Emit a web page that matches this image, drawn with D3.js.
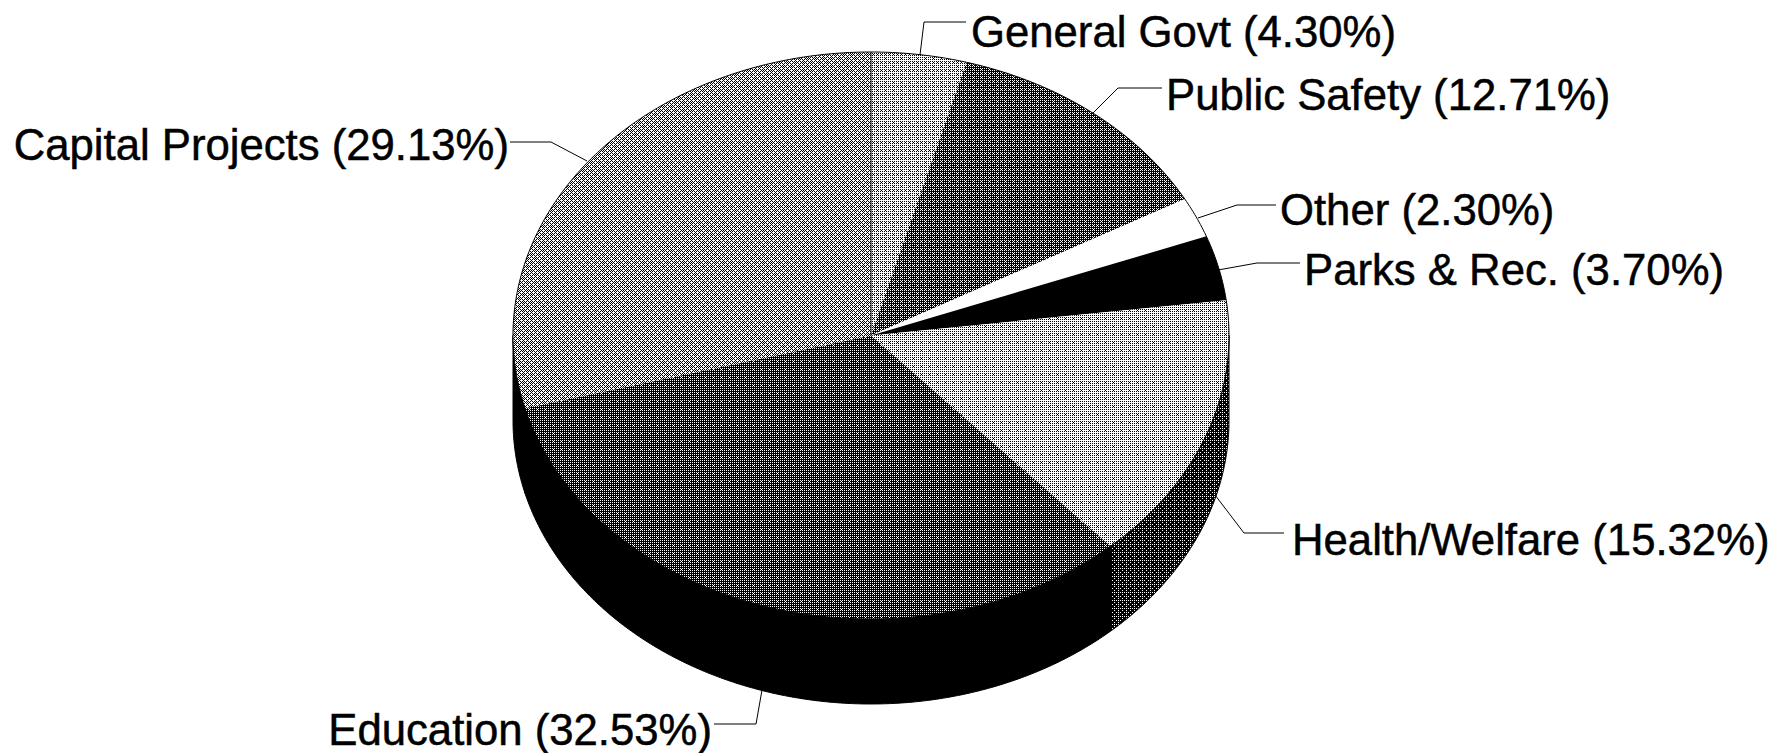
<!DOCTYPE html>
<html>
<head>
<meta charset="utf-8">
<script src="https://cdn.jsdelivr.net/npm/d3@7"></script>
<style>
  html, body { margin: 0; background: #fff; }
  svg { display: block; }
  text { font-family: "Liberation Sans", Arial, sans-serif; font-size: 43.7px; fill: #000; stroke: #000; stroke-width: 0.5px; }
</style>
</head>
<body>
<div id="chart"></div>
<script>
// chart values, clockwise from 12 o'clock
const categories = ["General Govt", "Public Safety", "Other", "Parks & Rec.", "Health/Welfare", "Education", "Capital Projects"];
const shares = [4.30, 12.71, 2.30, 3.70, 15.32, 32.53, 29.13];

// grey level of each slice top, 0 = black, 1 = white
const topGreys = [0.70, 0.30, 1, 0, 0.74, 0.27, 0.60];
const wallGreys = [0, 0, 0, 0, 0.17, 0, 0];

// leader line and label placement, same order as categories
const leaders = [
  [[920, 55], [924, 22], [966, 22]],
  [[1093, 113], [1118, 88], [1162, 88]],
  [[1198, 218], [1237, 205], [1276, 205]],
  [[1218, 270], [1257, 263], [1300, 263]],
  [[1215, 495], [1244, 533], [1284, 533]],
  [[762, 690], [756, 724], [714, 724]],
  [[587, 161], [551, 142], [510, 142]],
];
const labelX = [971, 1166, 1280, 1304, 1292, 712, 509];
const labelY = [47, 110, 225, 285, 555, 745, 160];
const labelAnchor = ["start", "start", "start", "start", "start", "end", "end"];

const width = 1787;
const height = 753;
const cx = 871;
const cy = 335.5;
const rx = 358;
const ry = 283.5;
const depth = 85;

const svg = d3.select("#chart").append("svg").attr("width", width).attr("height", height);

// ordered dither so the greys look like the scanned halftone
const bayer = [
  [0, 32, 8, 40, 2, 34, 10, 42],
  [48, 16, 56, 24, 50, 18, 58, 26],
  [12, 44, 4, 36, 14, 46, 6, 38],
  [60, 28, 52, 20, 62, 30, 54, 22],
  [3, 35, 11, 43, 1, 33, 9, 41],
  [51, 19, 59, 27, 49, 17, 57, 25],
  [15, 47, 7, 39, 13, 45, 5, 37],
  [63, 31, 55, 23, 61, 29, 53, 21],
];
const defs = svg.append("defs");
function dither(grey) {
  if (grey === 0) return "#000";
  if (grey === 1) return "#fff";
  const id = "grey" + Math.round(grey * 100);
  if (!defs.select("#" + id).empty()) return `url(#${id})`;
  const pattern = defs.append("pattern")
    .attr("id", id)
    .attr("patternUnits", "userSpaceOnUse")
    .attr("width", 8)
    .attr("height", 8);
  pattern.append("rect").attr("width", 8).attr("height", 8).attr("fill", "#fff");
  bayer.forEach((row, y) => row.forEach((t, x) => {
    if ((t + 0.5) / 64 > grey) {
      pattern.append("rect").attr("x", x).attr("y", y).attr("width", 1).attr("height", 1).attr("fill", "#000");
    }
  }));
  return `url(#${id})`;
}

const pie = d3.pie().sort(null).value((d) => d);
const arcs = pie(shares);

const xAt = (a) => cx + rx * Math.sin(a);
const yAt = (a) => cy - ry * Math.cos(a);
const line = d3.line().x((d) => d[0]).y((d) => d[1]);

function rim(a0, a1, dy) {
  const n = Math.max(2, Math.ceil(Math.abs(a1 - a0) / 0.01));
  return d3.range(n + 1).map((i) => {
    const a = a0 + ((a1 - a0) * i) / n;
    return [xAt(a), yAt(a) + dy];
  });
}

// side walls: only the front half of the ellipse shows
const front = [Math.PI / 2, (3 * Math.PI) / 2];
svg.append("g")
  .selectAll("path")
  .data(arcs.filter((d) => d.endAngle > front[0] && d.startAngle < front[1]))
  .join("path")
  .attr("d", (d) => {
    const a0 = Math.max(d.startAngle, front[0]);
    const a1 = Math.min(d.endAngle, front[1]);
    return line([...rim(a0, a1, 0), ...rim(a1, a0, depth)]) + "Z";
  })
  .attr("fill", (d) => dither(wallGreys[d.index]))
  .attr("stroke", "#000")
  .attr("stroke-width", 1);

// top face, no outline between the slices
svg.append("g")
  .selectAll("path")
  .data(arcs)
  .join("path")
  .attr("d", (d) => line([[cx, cy], ...rim(d.startAngle, d.endAngle, 0)]) + "Z")
  .attr("fill", (d) => dither(topGreys[d.index]));

// outer edge of the top face and the line at 12 o'clock
svg.append("path")
  .attr("d", line(rim(0, 2 * Math.PI, 0)) + "Z")
  .attr("fill", "none")
  .attr("stroke", "#000")
  .attr("stroke-width", 1);
svg.append("path")
  .attr("d", line([[cx, cy], rim(0, 0, 0)[0]]))
  .attr("stroke", "#000")
  .attr("stroke-width", 1);

// leaders
svg.append("g")
  .selectAll("path")
  .data(leaders)
  .join("path")
  .attr("d", line)
  .attr("fill", "none")
  .attr("stroke", "#000")
  .attr("stroke-width", 1);

// labels
svg.append("g")
  .selectAll("text")
  .data(categories)
  .join("text")
  .attr("x", (d, i) => labelX[i])
  .attr("y", (d, i) => labelY[i])
  .attr("text-anchor", (d, i) => labelAnchor[i])
  .text((d, i) => `${d} (${shares[i].toFixed(2)}%)`);
</script>
</body>
</html>
